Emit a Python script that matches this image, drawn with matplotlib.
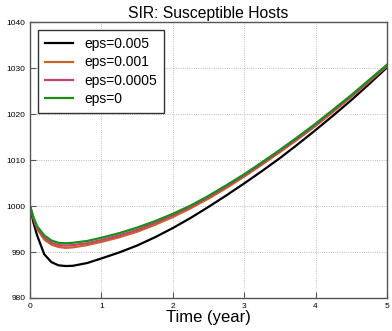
import numpy as np
import matplotlib.pyplot as plt

plt.rcParams['font.family'] = ['Liberation Sans', 'DejaVu Sans']

# Values
t = [0, 0.05, 0.1, 0.2, 0.3, 0.4, 0.5, 0.6, 0.8, 1.0, 1.25, 1.5, 1.75, 2.0,
     2.25, 2.5, 2.75, 3.0, 3.25, 3.5, 3.75, 4.0, 4.25, 4.5, 4.75, 5.0]

s_eps_005 = [1000, 996.3, 993.6, 989.5, 987.8, 987.1, 986.95, 987.0, 987.6, 988.6,
             989.9, 991.4, 993.2, 995.2, 997.4, 999.8, 1002.3, 1004.9,
             1007.6, 1010.4, 1013.4, 1016.5, 1019.7, 1023.0, 1026.5, 1030.1]
s_eps_001 = [1000, 997.2, 995.0, 992.7, 991.6, 991.1, 990.9, 991.0, 991.5, 992.2,
             993.2, 994.4, 995.9, 997.6, 999.5, 1001.6, 1003.9, 1006.4,
             1009.0, 1011.7, 1014.5, 1017.4, 1020.5, 1023.7, 1027.0, 1030.4]
s_eps_0005 = [1000, 997.3, 995.2, 993.1, 992.0, 991.5, 991.4, 991.5, 991.9, 992.6,
              993.6, 994.8, 996.3, 998.0, 999.8, 1001.9, 1004.2, 1006.6,
              1009.2, 1011.9, 1014.7, 1017.6, 1020.7, 1023.9, 1027.2, 1030.5]
s_eps_0 = [1000, 997.5, 995.6, 993.6, 992.5, 992.0, 991.9, 992.0, 992.4, 993.1,
           994.1, 995.3, 996.7, 998.3, 1000.1, 1002.2, 1004.5, 1006.9,
           1009.5, 1012.2, 1015.0, 1017.9, 1021.0, 1024.1, 1027.4, 1030.7]

labels = ['eps=0.005', 'eps=0.001', 'eps=0.0005', 'eps=0']
colors = ['black', '#c8642a', '#c8406e', '#1a8c1a']

fig = plt.figure(figsize=(3.92, 3.31), dpi=100)
ax = fig.add_axes([0.0765, 0.0997, 0.9105, 0.8338])

for s, lab, c in zip([s_eps_005, s_eps_001, s_eps_0005, s_eps_0], labels, colors):
    ax.plot(t, s, color=c, lw=1.6, label=lab)

ax.set_xlim(0, 5)
ax.set_ylim(980, 1040)
ax.set_xticks(range(0, 6))
ax.set_yticks(range(980, 1041, 10))
ax.grid(True, linestyle=':', color='#aaaaaa', lw=0.6)
ax.tick_params(direction='in', labelsize=6, length=4, color='#555555')
for sp in ax.spines.values():
    sp.set_color('#555555')
    sp.set_linewidth(1.0)

ax.set_title('SIR: Susceptible Hosts', fontsize=11.3, pad=3)
ax.set_xlabel('Time (year)', fontsize=12, labelpad=0)

leg = ax.legend(loc='upper left', fontsize=10, fancybox=False, framealpha=1,
                handlelength=2.0, borderpad=0.5, labelspacing=0.3,
                borderaxespad=0.6)
leg.get_frame().set_edgecolor('#333333')

fig.savefig('out.png', dpi=100)
